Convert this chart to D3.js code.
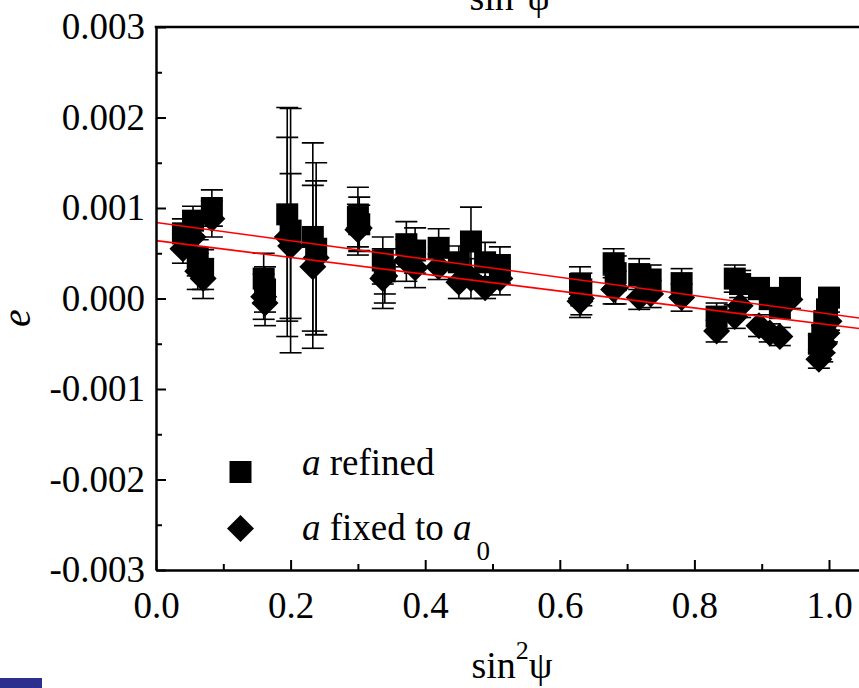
<!DOCTYPE html>
<html>
<head>
<meta charset="utf-8">
<script src="https://cdn.jsdelivr.net/npm/d3@7"></script>
<style>
  body { margin: 0; background: #fff; }
  svg { display: block; }
  text { font-family: "Liberation Serif", "Times New Roman", serif; fill: #000; }
</style>
</head>
<body>
<script>
// sin^2(psi) positions and strains
const sin2psi = [0.040, 0.055, 0.062, 0.070, 0.083, 0.160, 0.162, 0.195, 0.200, 0.233,
  0.238, 0.300, 0.302, 0.337, 0.340, 0.372, 0.385, 0.420, 0.450, 0.468,
  0.489, 0.511, 0.630, 0.632, 0.680, 0.683, 0.718, 0.735, 0.781, 0.833,
  0.860, 0.868, 0.896, 0.912, 0.927, 0.942, 0.985, 0.990, 0.993, 0.997, 1.000];

// a refined (squares)
const refinedE = [0.00072, 0.00086, 0.00045, 0.00032, 0.00100, 0.00022, 0.00010, 0.00093, 0.00075, 0.00068,
  0.00055, 0.00090, 0.00082, 0.00042, 0.00030, 0.00060, 0.00053, 0.00056, 0.00040, 0.00063,
  0.00040, 0.00037, 0.00016, 0.00010, 0.00039, 0.00028, 0.00027, 0.00021, 0.00017, -0.00020,
  0.00022, 0.00016, 0.00011, 0.00000, -0.00010, 0.00011, -0.00050, -0.00040, -0.00025, -0.00012, 0.00001];
const refinedErr = [0.00016, 0.00016, 0.00020, 0.00022, 0.00020, 0.00028, 0.00025, 0.00118, 0.00135, 0.00104,
  0.00095, 0.00033, 0.00030, 0.00026, 0.00025, 0.00025, 0.00025, 0.00021, 0.00018, 0.00038,
  0.00022, 0.00020, 0.00019, 0.00018, 0.00016, 0.00019, 0.00017, 0.00016, 0.00016, 0.00015,
  0.00015, 0.00015, 0.00012, 0.00012, 0.00012, 0.00012, 0.00010, 0.00010, 0.00010, 0.00010, 0.00010];

// a fixed to a0 (diamonds)
const fixedE = [0.00055, 0.00068, 0.00030, 0.00022, 0.00088, 0.00002, -0.00005, 0.00068, 0.00058, 0.00035,
  0.00045, 0.00076, 0.00078, 0.00022, 0.00025, 0.00042, 0.00034, 0.00035, 0.00018, 0.00022,
  0.00012, 0.00022, -0.00003, 0.00000, 0.00010, 0.00012, 0.00001, 0.00005, 0.00001, -0.00036,
  -0.00020, -0.00008, -0.00030, -0.00038, -0.00042, -0.00001, -0.00067, -0.00060, -0.00050, -0.00038, -0.00025];
const fixedErr = [0.00016, 0.00016, 0.00020, 0.00022, 0.00020, 0.00025, 0.00025, 0.00110, 0.00080, 0.00090,
  0.00085, 0.00028, 0.00025, 0.00033, 0.00030, 0.00023, 0.00022, 0.00014, 0.00018, 0.00022,
  0.00012, 0.00018, 0.00018, 0.00018, 0.00016, 0.00018, 0.00013, 0.00015, 0.00015, 0.00012,
  0.00013, 0.00013, 0.00012, 0.00010, 0.00010, 0.00010, 0.00010, 0.00010, 0.00010, 0.00010, 0.00010];

// linear fits (e = intercept + slope * sin^2 psi)
const fitIntercepts = [0.00084, 0.00064];
const fitSlopes = [-0.00101, -0.00093];

const xMajor = [0.0, 0.2, 0.4, 0.6, 0.8, 1.0];
const xMinor = [0.1, 0.3, 0.5, 0.7, 0.9];
const yMajor = [-0.003, -0.002, -0.001, 0.000, 0.001, 0.002, 0.003];
const yMinor = [-0.0025, -0.0015, -0.0005, 0.0005, 0.0015, 0.0025];

const W = 859, H = 688;
const plotLeft = 156, plotTop = 27, plotBottom = 570;
const plotRight = plotLeft + 673 * 1.05;

const svg = d3.select('body').append('svg')
  .attr('width', W)
  .attr('height', H);

const x = d3.scaleLinear().domain([0, 1.05]).range([plotLeft, plotRight]);
const y = d3.scaleLinear().domain([-0.003, 0.003]).range([plotBottom, plotTop]);

svg.append('clipPath').attr('id', 'plot-clip')
  .append('rect')
  .attr('x', plotLeft).attr('y', plotTop)
  .attr('width', plotRight - plotLeft).attr('height', plotBottom - plotTop);

// bit of a blue image peeking in at the bottom left
svg.append('rect')
  .attr('x', 0).attr('y', 678)
  .attr('width', 42).attr('height', 10)
  .style('fill', '#2d2f8e');

const data = sin2psi.map((s, i) => ({
  s: s,
  r: refinedE[i], rErr: refinedErr[i],
  f: fixedE[i], fErr: fixedErr[i]
}));

const gPlot = svg.append('g').attr('clip-path', 'url(#plot-clip)');

// error bars
function errorBars(cls, val, err) {
  const g = gPlot.append('g').attr('class', cls);
  const bars = g.selectAll('g').data(data).enter().append('g');
  bars.append('line')
    .attr('x1', d => x(d.s)).attr('x2', d => x(d.s))
    .attr('y1', d => y(d[val] - d[err])).attr('y2', d => y(d[val] + d[err]));
  [-1, 1].forEach(sign => {
    bars.append('line')
      .attr('x1', d => x(d.s) - 11).attr('x2', d => x(d.s) + 11)
      .attr('y1', d => y(d[val] + sign * d[err])).attr('y2', d => y(d[val] + sign * d[err]));
  });
  g.selectAll('line').style('stroke', '#000').style('stroke-width', 1.6);
}
errorBars('err-refined', 'r', 'rErr');
errorBars('err-fixed', 'f', 'fErr');

// squares
gPlot.append('g').selectAll('rect')
  .data(data).enter().append('rect')
  .attr('x', d => x(d.s) - 11)
  .attr('y', d => y(d.r) - 11)
  .attr('width', 22).attr('height', 22)
  .style('fill', '#000');

// diamonds
const diamond = 'M0,-13.5L13.5,0L0,13.5L-13.5,0Z';
gPlot.append('g').selectAll('path')
  .data(data).enter().append('path')
  .attr('d', diamond)
  .attr('transform', d => 'translate(' + x(d.s) + ',' + y(d.f) + ')')
  .style('fill', '#000');

// fit lines
const line = d3.line().x(d => x(d[0])).y(d => y(d[1]));
fitIntercepts.forEach((b, i) => {
  const pts = [0, 1.05].map(s => [s, b + fitSlopes[i] * s]);
  gPlot.append('path')
    .attr('d', line(pts))
    .style('fill', 'none')
    .style('stroke', '#ff0000')
    .style('stroke-width', 1.6);
});

// axes
svg.append('g')
  .attr('transform', 'translate(0,' + plotBottom + ')')
  .call(d3.axisBottom(x)
    .tickValues(xMajor)
    .tickFormat(d3.format('.1f'))
    .tickSize(-10)
    .tickSizeOuter(0)
    .tickPadding(22));

svg.append('g')
  .attr('transform', 'translate(0,' + plotBottom + ')')
  .call(d3.axisBottom(x).tickValues(xMinor).tickFormat('').tickSize(-6).tickSizeOuter(0))
  .select('.domain').remove();

const yAxis = svg.append('g')
  .attr('transform', 'translate(' + plotLeft + ',0)')
  .call(d3.axisLeft(y)
    .tickValues(yMajor)
    .tickFormat(d3.format('.3f'))
    .tickSize(-10)
    .tickSizeOuter(0)
    .tickPadding(11));

svg.append('g')
  .attr('transform', 'translate(' + plotLeft + ',0)')
  .call(d3.axisLeft(y).tickValues(yMinor).tickFormat('').tickSize(-6).tickSizeOuter(0))
  .select('.domain').remove();

svg.selectAll('.tick line').style('stroke', '#000').style('stroke-width', 2);
svg.selectAll('.domain').style('stroke', '#000').style('stroke-width', 2.5);
svg.selectAll('.tick text')
  .style('font-family', '"Liberation Serif", serif')
  .style('font-size', '37px')
  .style('fill', '#000');
yAxis.selectAll('.tick text').text(d => d3.format('.3f')(d).replace('−', '-'));

// top frame line
svg.append('line')
  .attr('x1', plotLeft - 1.25).attr('x2', plotRight)
  .attr('y1', plotTop).attr('y2', plotTop)
  .style('stroke', '#000').style('stroke-width', 2.5);

// axis titles
function sinTitle(cx, baseline) {
  const t = svg.append('text')
    .attr('x', cx).attr('y', baseline)
    .attr('text-anchor', 'middle')
    .style('font-size', '38px');
  t.append('tspan').text('sin');
  t.append('tspan').attr('dy', '-0.72em').style('font-size', '26px').text('2');
  t.append('tspan').attr('dy', '0.5em').text('ψ');
}
sinTitle(512, 678);
sinTitle(510, 10);

svg.append('text')
  .attr('transform', 'translate(30,318) rotate(-90)')
  .attr('text-anchor', 'middle')
  .style('font-size', '40px')
  .style('font-style', 'italic')
  .text('e');

// legend
const legend = svg.append('g');
legend.append('rect')
  .attr('x', 229.5).attr('y', 461)
  .attr('width', 22).attr('height', 22)
  .style('fill', '#000');
legend.append('path')
  .attr('d', diamond)
  .attr('transform', 'translate(240.5,528.5)')
  .style('fill', '#000');

const l1 = legend.append('text').attr('x', 302).attr('y', 475).style('font-size', '37px');
l1.append('tspan').style('font-style', 'italic').text('a');
l1.append('tspan').text(' refined');

const l2 = legend.append('text').attr('x', 302).attr('y', 540).style('font-size', '37px');
l2.append('tspan').style('font-style', 'italic').text('a');
l2.append('tspan').text(' fixed to ');
l2.append('tspan').style('font-style', 'italic').text('a');
l2.append('tspan').attr('dy', 20).attr('dx', 5).style('font-size', '27px').text('0');
</script>
</body>
</html>
